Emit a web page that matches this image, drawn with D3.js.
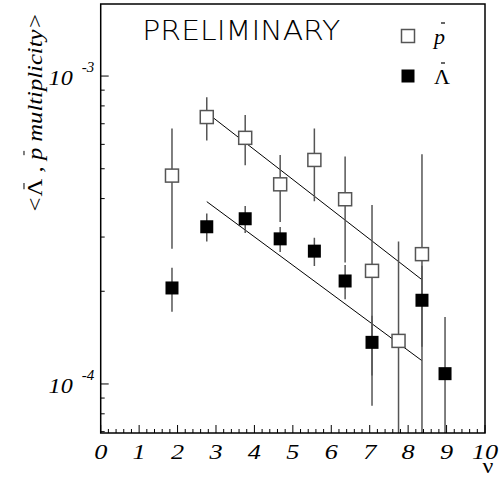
<!DOCTYPE html>
<html>
<head>
<meta charset="utf-8">
<script src="https://cdn.jsdelivr.net/npm/d3@7"></script>
<style>
  body { margin: 0; background: #fff; }
  text { font-family: "Liberation Serif", "Times New Roman", serif; }
</style>
</head>
<body>
<div id="chart"></div>
<script>
// number of participants (nu) and multiplicities
var pbarNu = [1.855, 2.76, 3.76, 4.67, 5.56, 6.36, 7.06, 7.75, 8.36];
var pbarMult = [4.75e-4, 7.36e-4, 6.30e-4, 4.45e-4, 5.34e-4, 3.98e-4, 2.33e-4, 1.38e-4, 2.64e-4];
var pbarErr = [2.0e-4, 1.18e-4, 1.17e-4, 1.09e-4, 1.42e-4, 1.5e-4, 1.48e-4, 1.52e-4, 2.93e-4];

var lambdaNu = [1.855, 2.76, 3.76, 4.67, 5.56, 6.36, 7.06, 8.36, 8.96];
var lambdaMult = [2.05e-4, 3.24e-4, 3.44e-4, 2.96e-4, 2.70e-4, 2.16e-4, 1.365e-4, 1.87e-4, 1.08e-4];
var lambdaErr = [0.335e-4, 0.34e-4, 0.345e-4, 0.275e-4, 0.285e-4, 0.275e-4, 0.30e-4, 0.55e-4, 0.57e-4];

// fitted lines (end points)
var pbarFit = [[2.76, 7.60e-4], [8.36, 2.18e-4]];
var lambdaFit = [[2.76, 3.91e-4], [8.36, 1.19e-4]];

var xTickLabels = [0, 1, 2, 3, 4, 5, 6, 7, 8, 9, 10];
var yMajorTicks = [1e-4, 1e-3];
var yMajorExp = ["-4", "-3"];
var yMinorTicks = [7e-5, 8e-5, 9e-5, 2e-4, 3e-4, 4e-4, 5e-4, 6e-4, 7e-4, 8e-4, 9e-4];

var margin = {top: 4, right: 18, bottom: 46, left: 100.7},
	width = 503 - margin.left - margin.right,
	height = 479 - margin.top - margin.bottom;

var x = d3.scaleLinear()
	.domain([0, 10])
	.range([0, width]);

var y = d3.scaleLog()
	.domain([6.93e-5, 1.714e-3])
	.range([height, 0]);

var svg = d3.select("#chart")
	.append("svg")
	.attr("width", 503)
	.attr("height", 479)
	.append("g")
	.attr("transform", `translate(${margin.left},${margin.top})`);

svg.append("clipPath")
	.attr("id", "plotArea")
	.append("rect")
	.attr("width", width)
	.attr("height", height);

// x axis: majors every 1, minors every 0.2
var xMinor = d3.range(0, 50).map(d => d * 0.2).filter((d, i) => i % 5 !== 0);

svg.append("g")
	.attr("transform", `translate(0,${height})`)
	.selectAll("line")
	.data(xMinor)
	.enter()
	.append("line")
	.attr("x1", d => x(d)).attr("x2", d => x(d))
	.attr("y1", 0).attr("y2", -4)
	.attr("stroke", "#000").attr("stroke-width", 1);

svg.append("g")
	.attr("transform", `translate(0,${height})`)
	.selectAll("line")
	.data(xTickLabels)
	.enter()
	.append("line")
	.attr("x1", d => x(d)).attr("x2", d => x(d))
	.attr("y1", 0).attr("y2", -8)
	.attr("stroke", "#000").attr("stroke-width", 1);

svg.selectAll(".xlabel")
	.data(xTickLabels)
	.enter()
	.append("text")
	.attr("class", "xlabel")
	.attr("transform", d => `translate(${x(d)},${height + 26}) scale(1.25,1)`)
	.attr("text-anchor", "middle")
	.style("font-style", "italic")
	.style("font-size", "21px")
	.text(d => d);

svg.append("text")
	.attr("transform", `translate(${x(10) + 3},${height + 40}) scale(1.2,1)`)
	.attr("text-anchor", "middle")
	.style("font-size", "20px")
	.text("\u03bd");

// y axis ticks
svg.selectAll(".yminor")
	.data(yMinorTicks)
	.enter()
	.append("line")
	.attr("x1", 0).attr("x2", 4)
	.attr("y1", d => y(d)).attr("y2", d => y(d))
	.attr("stroke", "#000").attr("stroke-width", 1);

svg.selectAll(".ymajor")
	.data(yMajorTicks)
	.enter()
	.append("line")
	.attr("x1", 0).attr("x2", 8)
	.attr("y1", d => y(d)).attr("y2", d => y(d))
	.attr("stroke", "#000").attr("stroke-width", 1);

yMajorTicks.forEach((t, i) => {
	svg.append("text")
		.attr("transform", `translate(-28,${y(t) + 9}) scale(1.15,1)`)
		.attr("text-anchor", "end")
		.style("font-style", "italic")
		.style("font-size", "21px")
		.text("10");
	svg.append("text")
		.attr("x", -19)
		.attr("y", y(t) - 4)
		.style("font-style", "italic")
		.style("font-size", "15px")
		.text(yMajorExp[i]);
});

// y title, overbars drawn as short lines above the glyphs
var ytitleG = svg.append("g")
	.attr("transform", `translate(${42 - margin.left},${113 - margin.top}) rotate(-90)`);

var ytitle = ytitleG.append("text")
	.attr("text-anchor", "middle")
	.attr("textLength", 200)
	.attr("lengthAdjust", "spacingAndGlyphs")
	.style("font-size", "21px")
	.style("font-style", "italic");
ytitle.append("tspan").text("<");
ytitle.append("tspan").style("font-style", "normal").text("\u039b");
ytitle.append("tspan").text(" , p  multiplicity>");

[1, 5].forEach(ci => {
	var b = ytitle.node().getExtentOfChar(ci);
	ytitleG.append("line")
		.attr("x1", b.x + b.width * 0.4).attr("x2", b.x + b.width * 0.75)
		.attr("y1", -18).attr("y2", -18)
		.attr("stroke", "#000").attr("stroke-width", 1);
});

// fit lines
var line = d3.line()
	.x(d => x(d[0]))
	.y(d => y(d[1]));

[pbarFit, lambdaFit].forEach(fit => {
	svg.append("path")
		.datum(fit)
		.attr("d", line)
		.attr("fill", "none")
		.attr("stroke", "#000")
		.attr("stroke-width", 1);
});

// error bars and markers
var plot = svg.append("g").attr("clip-path", "url(#plotArea)");
var size = 13;

function drawSeries(nu, mult, err, filled) {
	var data = nu.map((d, i) => ({nu: d, v: mult[i], e: err[i]}));
	plot.selectAll(null)
		.data(data)
		.enter()
		.append("line")
		.attr("x1", d => x(d.nu)).attr("x2", d => x(d.nu))
		.attr("y1", d => y(d.v + d.e))
		.attr("y2", d => d.v - d.e > 0 ? y(d.v - d.e) : height + 5)
		.attr("stroke", "#555")
		.attr("stroke-width", 1.5);
	plot.selectAll(null)
		.data(data)
		.enter()
		.append("rect")
		.attr("x", d => x(d.nu) - size / 2)
		.attr("y", d => y(d.v) - size / 2)
		.attr("width", size)
		.attr("height", size)
		.attr("fill", filled ? "#000" : "#fff")
		.attr("stroke", filled ? "#000" : "#555")
		.attr("stroke-width", filled ? 0 : 1.5);
}

drawSeries(pbarNu, pbarMult, pbarErr, false);
drawSeries(lambdaNu, lambdaMult, lambdaErr, true);

// frame
svg.append("rect")
	.attr("width", width)
	.attr("height", height)
	.attr("fill", "none")
	.attr("stroke", "#000")
	.attr("stroke-width", 1.5);

// legend
svg.append("text")
	.attr("x", 142.3 - margin.left)
	.attr("y", 40 - margin.top)
	.attr("textLength", 198)
	.attr("lengthAdjust", "spacingAndGlyphs")
	.style("font-family", "'DejaVu Sans', 'Liberation Sans', sans-serif")
	.style("font-weight", 200)
	.style("font-size", "26px")
	.style("fill", "#000")
	.text("PRELIMINARY");

var legend = [
	{label: "p", italic: true, filled: false, y: 36, barY: 23},
	{label: "\u039b", italic: false, filled: true, y: 76, barY: 63}
];

var leg = svg.selectAll(".legend")
	.data(legend)
	.enter()
	.append("g")
	.attr("class", "legend")
	.attr("transform", d => `translate(${408 - margin.left},${d.y - margin.top})`);

leg.append("rect")
	.attr("x", -size / 2).attr("y", -size / 2)
	.attr("width", size).attr("height", size)
	.attr("fill", d => d.filled ? "#000" : "#fff")
	.attr("stroke", d => d.filled ? "#000" : "#555")
	.attr("stroke-width", d => d.filled ? 0 : 1.5);

leg.append("text")
	.attr("x", 26)
	.attr("y", 8)
	.style("font-size", "22px")
	.style("font-style", d => d.italic ? "italic" : "normal")
	.text(d => d.label);

leg.append("line")
	.attr("x1", 33).attr("x2", 37)
	.attr("y1", d => d.barY - d.y).attr("y2", d => d.barY - d.y)
	.attr("stroke", "#000").attr("stroke-width", 1.2);
</script>
</body>
</html>
